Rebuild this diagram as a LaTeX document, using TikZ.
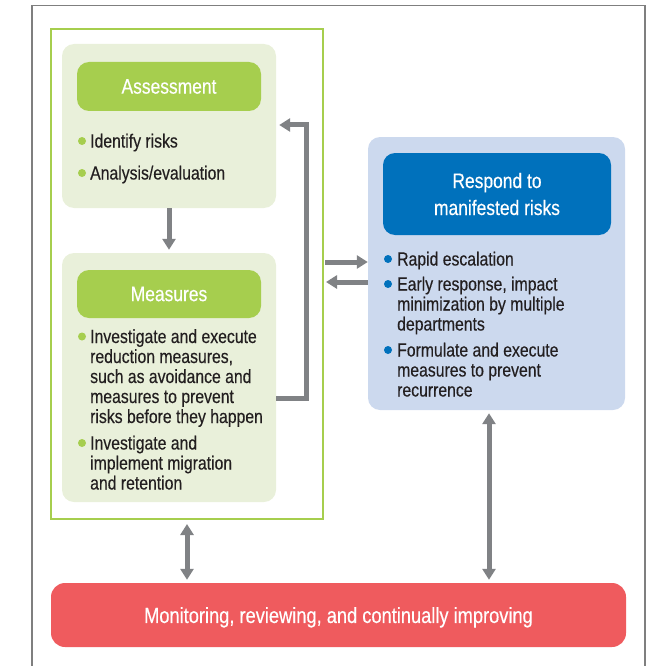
\documentclass[tikz,border=0pt]{standalone}
\usepackage{fontspec}
\setmainfont{Liberation Sans}[FakeStretch=0.83,FakeBold=0.35]
\usetikzlibrary{arrows.meta,calc}
\definecolor{grhdr}{HTML}{A6CE4E}
\definecolor{grbg}{HTML}{E9F0DA}
\definecolor{blbg}{HTML}{CCD9EE}
\definecolor{blhdr}{HTML}{0071BC}
\definecolor{redbx}{HTML}{EF5B5E}
\definecolor{arrgray}{HTML}{808285}
\definecolor{framegray}{HTML}{7F7F7F}
\definecolor{txt}{HTML}{231F20}
\begin{document}
\begin{tikzpicture}[x=1pt,y=-1pt,
  bgbox/.style={fill=#1, rounded corners=12pt, inner sep=0pt},
  hdr/.style={fill=#1, rounded corners=12pt, inner sep=0pt, text=white, align=center,
    font=\fontsize{21}{27}\selectfont},
  body/.style={anchor=base west, inner sep=0pt, align=left, text=txt,
    font=\fontsize{19}{20}\selectfont},
  gdot/.style={circle, fill=grhdr, inner sep=0pt, minimum size=8pt},
  bdot/.style={circle, fill=blhdr, inner sep=0pt, minimum size=8pt},
  arr/.style={draw=arrgray, line width=5pt, -{Triangle[width=13pt,length=11pt]}},
  darr/.style={draw=arrgray, line width=5pt, {Triangle[width=13pt,length=11pt]}-{Triangle[width=13pt,length=11pt]}}]
\useasboundingbox (0,0) rectangle (659,666);
% outer frame
\coordinate (f1) at (32,666);
\coordinate (f2) at (32,5.5);
\coordinate (f3) at (645,5.5);
\coordinate (f4) at (645,666);
\draw[framegray, line width=1.8pt] (f1) -- (f2) -- (f3) -- (f4);
% green frame
\node[draw=grhdr, line width=2pt, minimum width=272pt, minimum height=490pt, inner sep=0pt] (gframe) at (187,274) {};
% assessment
\node[bgbox=grbg, minimum width=214pt, minimum height=164pt] (asm) at (169,126) {};
\node[hdr=grhdr, minimum width=184pt, minimum height=49pt] (asmh) at (169,86.5) {Assessment};
\node[gdot] (d1) at (82,141) {};
\node[body] (t1) at (90,147.5) {Identify risks};
\node[gdot] (d2) at (82,173) {};
\node[body] (t2) at (90,179.5) {Analysis/evaluation};
% measures
\node[bgbox=grbg, minimum width=214pt, minimum height=249pt] (mea) at (169,377.5) {};
\node[hdr=grhdr, minimum width=184pt, minimum height=48pt] (meah) at (169,294) {Measures};
\node[gdot] (d3) at (82,336.5) {};
\node[body] (t3) at (90,423) {Investigate and execute\\reduction measures,\\such as avoidance and\\measures to prevent\\risks before they happen};
\node[gdot] (d4) at (82,443) {};
\node[body] (t4) at (90,489.5) {Investigate and\\implement migration\\and retention};
% respond
\node[bgbox=blbg, minimum width=257pt, minimum height=273pt] (blue) at (496.5,273.5) {};
\node[hdr=blhdr, minimum width=228pt, minimum height=82pt] (blueh) at (497,194) {Respond to\\manifested risks};
\node[bdot] (d5) at (388,259) {};
\node[body] (t5) at (397,265.5) {Rapid escalation};
\node[bdot] (d6) at (388,284) {};
\node[body] (t6) at (397,330.5) {Early response, impact\\minimization by multiple\\departments};
\node[bdot] (d7) at (388,350) {};
\node[body] (t7) at (397,396.5) {Formulate and execute\\measures to prevent\\recurrence};
% monitoring
\node[fill=redbx, rounded corners=14pt, inner sep=0pt, minimum width=575pt, minimum height=64pt,
  text=white, text depth=0pt, font=\fontsize{22}{26}\selectfont] (red) at (338.5,615) {Monitoring, reviewing, and continually improving};
% connectors
\draw[arr, shorten >=3pt] (asm.south) -- (mea.north);
\coordinate (lb) at (306,398);
\coordinate (lt) at (306,125);
\draw[arr] (mea.east |- lb) -- (lb) -- (lt) -- ([xshift=3pt]asm.east |- lt);
\coordinate (r1) at (0,262);
\coordinate (r2) at (0,282);
\draw[arr] ([xshift=1pt]gframe.east |- r1) -- (blue.west |- r1);
\draw[arr] (blue.west |- r2) -- ([xshift=2pt]gframe.east |- r2);
\draw[darr, shorten <=4pt, shorten >=3pt] (gframe.south) -- (red.north -| gframe.south);
\coordinate (c6) at (489,0);
\draw[darr, shorten <=3pt, shorten >=3pt] (blue.south -| c6) -- (red.north -| c6);
\end{tikzpicture}
\end{document}
